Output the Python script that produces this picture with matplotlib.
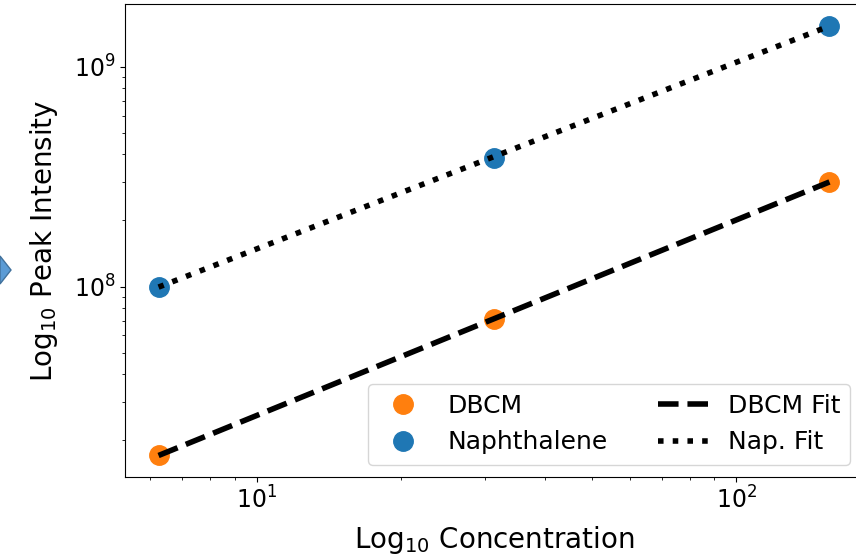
import numpy as np
import matplotlib
matplotlib.use("Agg")
import matplotlib.pyplot as plt
from matplotlib.patches import Polygon

# concentrations and peak intensities
concentration = [6.25, 31.25, 156.25]
dbcm_intensity = [1.71e7, 7.1e7, 3.0e8]
naph_intensity = [1.0e8, 3.86e8, 1.54e9]

plt.rcParams["font.size"] = 17

fig = plt.figure(figsize=(8.56, 5.57), dpi=100)
# the original is cropped from a slide: right spine sits just past the edge
ax = fig.add_axes([125 / 856, 1 - 477 / 557, 738 / 856, 473 / 557])

# power-law fits (straight lines in log-log space)
x = np.array(concentration)
p_dbcm = np.polyfit(np.log10(x), np.log10(dbcm_intensity), 1)
p_naph = np.polyfit(np.log10(x), np.log10(naph_intensity), 1)
fit_dbcm = 10 ** np.polyval(p_dbcm, np.log10(x))
fit_naph = 10 ** np.polyval(p_naph, np.log10(x))

h1, = ax.plot(x, dbcm_intensity, "o", color="#ff7f0e", ms=14, label="DBCM")
h2, = ax.plot(x, naph_intensity, "o", color="#1f77b4", ms=14, label="Naphthalene")
h3, = ax.plot(x, fit_dbcm, "--", color="black", lw=4, label="DBCM Fit")
h4, = ax.plot(x, fit_naph, ":", color="black", lw=4, label="Nap. Fit")

ax.set_xscale("log")
ax.set_yscale("log")
ax.set_xlabel("Log$_{10}$ Concentration", fontsize=20, labelpad=7)
ax.set_ylabel("Log$_{10}$ Peak Intensity", fontsize=20, labelpad=10)
ax.legend(handles=[h1, h2, h3, h4], ncol=2, loc="lower right", fontsize=18)

# leftover arrow tip from the slide on the left edge
arrow = Polygon([(0, 1 - 256 / 557), (11 / 856, 1 - 270 / 557), (0, 1 - 284 / 557)],
                closed=True, transform=fig.transFigure, facecolor="#5b9bd5",
                edgecolor="#41719c", lw=1)
fig.patches.append(arrow)

fig.savefig("out.png", dpi=100)
